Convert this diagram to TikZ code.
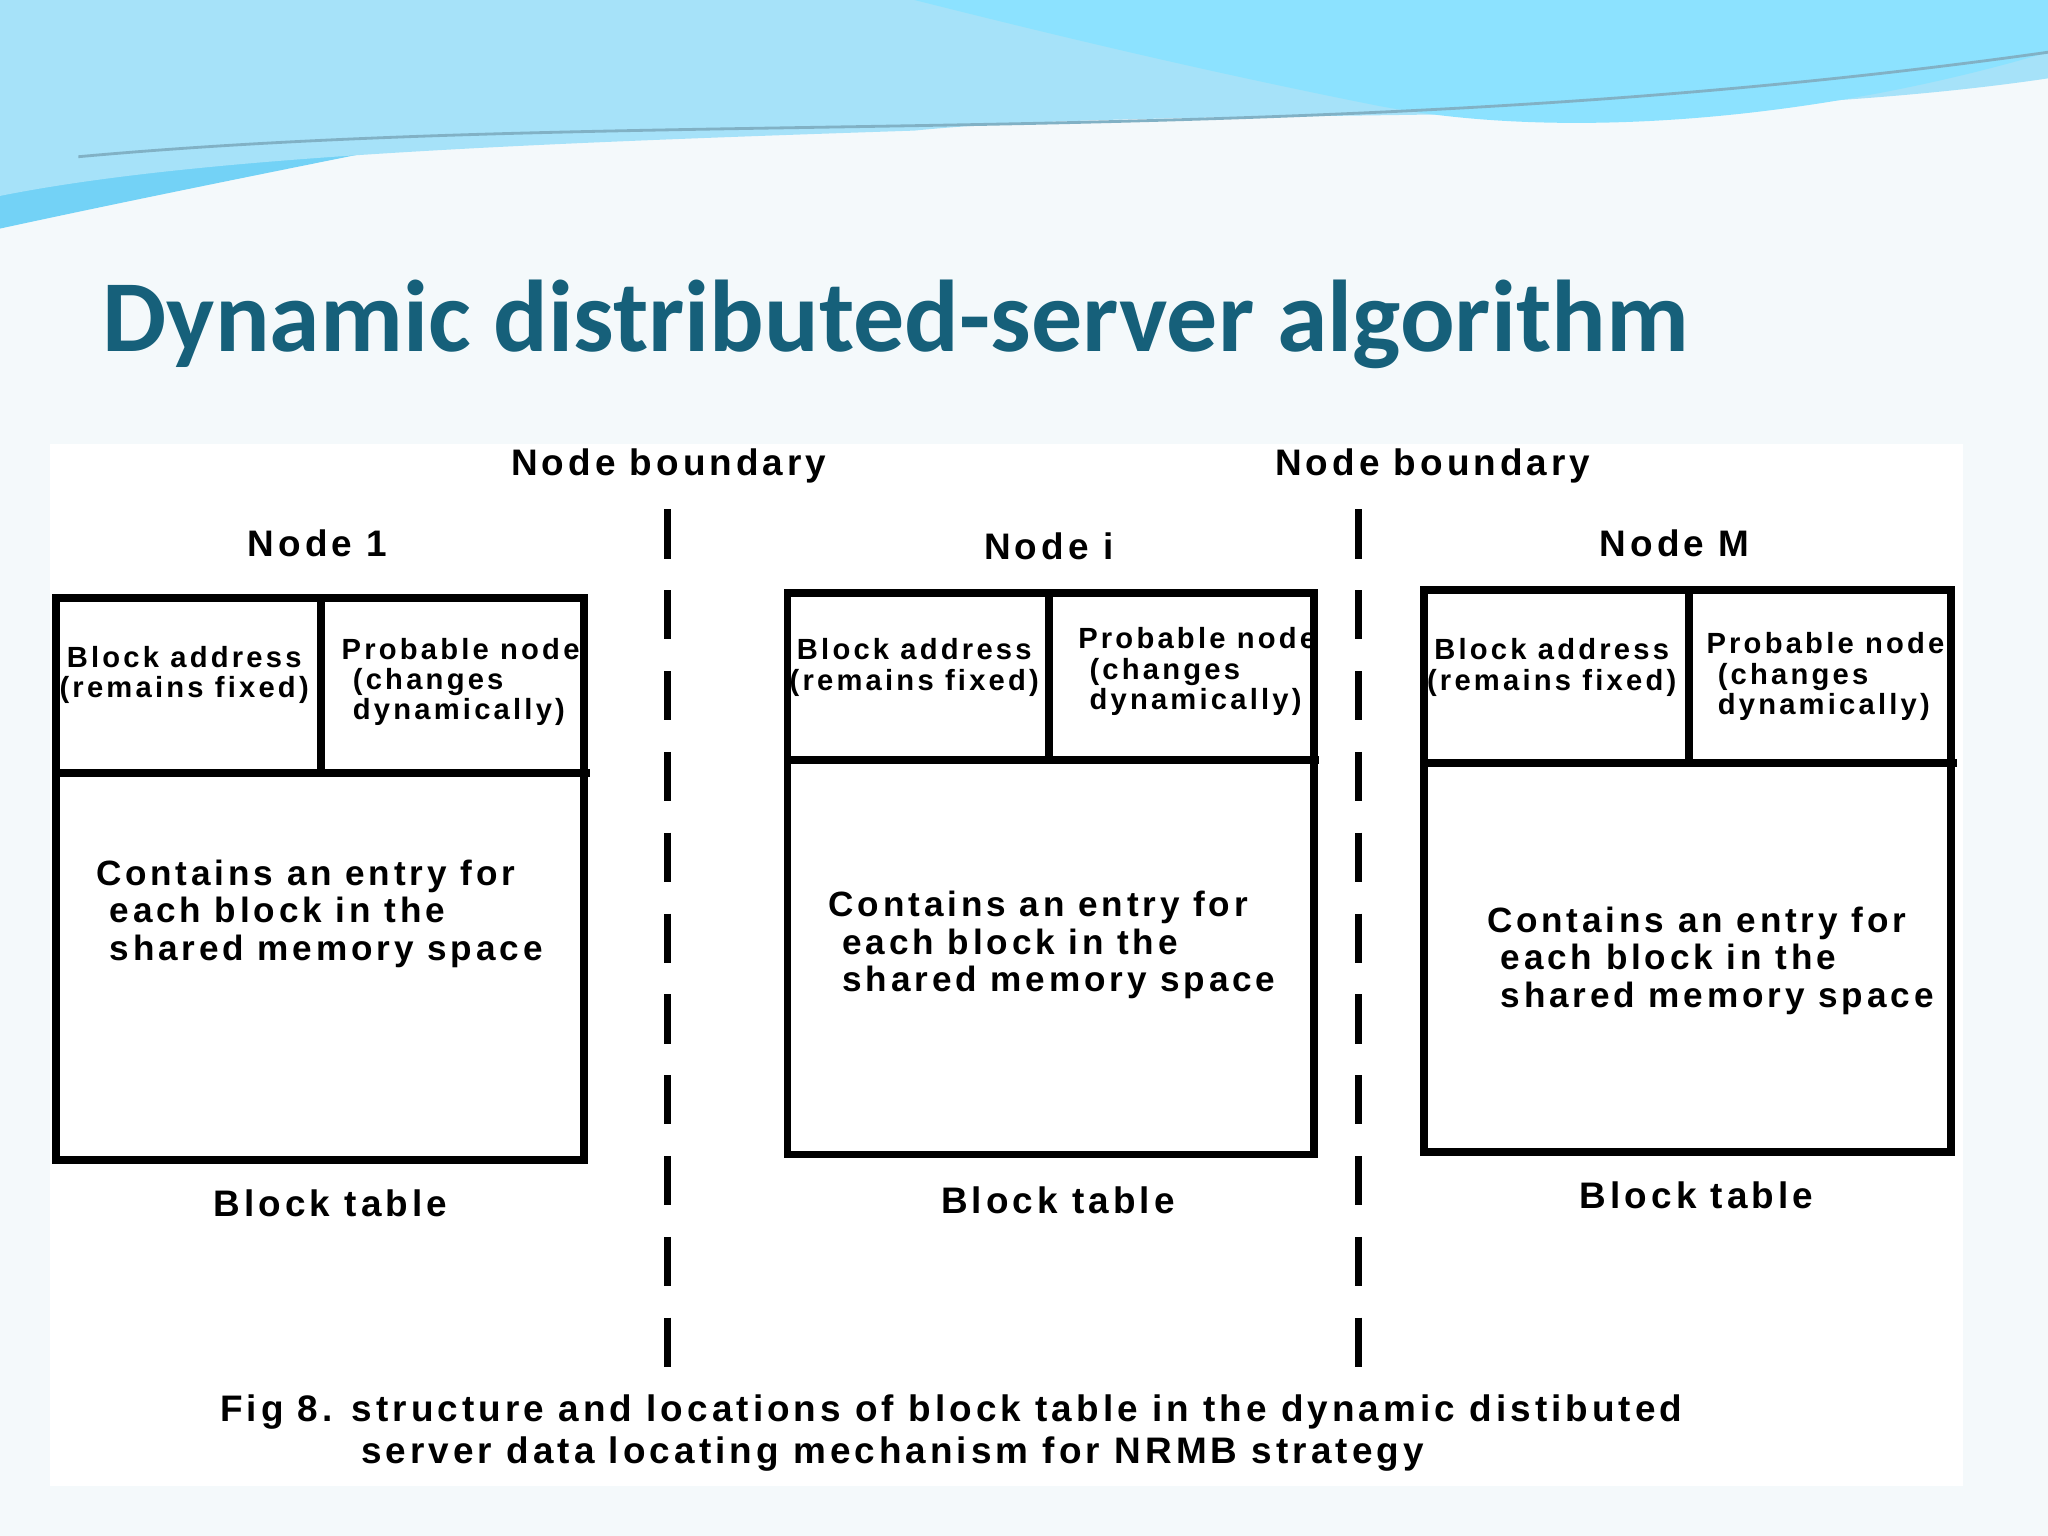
\documentclass[tikz,border=0pt]{standalone}
\usepackage{fontspec}
\setmainfont{Liberation Sans}[LetterSpace=11]
\newfontfamily\titlefont{Carlito}
\begin{document}
\begin{tikzpicture}[x=0.013061cm,y=-0.013061cm,
  box/.style={line width=2.2pt},
  lbl/.style={font=\bfseries\fontsize{10.5}{12}\selectfont},
  cell/.style={font=\bfseries\fontsize{8.3}{8.6}\selectfont,align=left,inner sep=0pt},
  body/.style={font=\bfseries\fontsize{10}{10.6}\selectfont,align=left,inner sep=0pt},
  bnd/.style={line width=2pt,dash pattern=on 14pt off 9pt}]
\useasboundingbox (0,0) rectangle (1568,1176);
\definecolor{bg}{HTML}{F4F9FB}
\definecolor{titlec}{HTML}{16607A}
\fill[bg] (0,0) rectangle (1568,1176);
% header waves
\fill[cyan!55!white] (0,0) -- (780,0) .. controls (600,60) and (300,110) .. (0,175) -- cycle;
\fill[cyan!35!white] (0,0) -- (1568,0) -- (1568,60) .. controls (1300,100) and (900,80) .. (700,100) .. controls (400,110) and (150,120) .. (0,150) -- cycle;
\fill[blue!25!cyan!45!white] (700,0) -- (1568,0) -- (1568,40) .. controls (1400,90) and (1200,110) .. (1050,80) .. controls (900,50) and (780,20) .. (700,0) -- cycle;
\draw[cyan!60!black!60,line width=0.8pt] (60,120) .. controls (500,80) and (1000,120) .. (1568,40);
\node[anchor=west,inner sep=0pt,text=titlec,font=\titlefont\bfseries\fontsize{29}{32}\selectfont] (title) at (78,248) {Dynamic distributed-server algorithm};
\fill[white] (38,340) rectangle (1503,1138);
% boundaries
\coordinate (b1t) at (511,390); \coordinate (b1b) at (511,1055);
\coordinate (b2t) at (1040,390); \coordinate (b2b) at (1040,1055);
\draw[bnd] (b1t) -- (b1b);
\draw[bnd] (b2t) -- (b2b);
\node[lbl] (nb1) at (512,357) {Node boundary};
\node[lbl] (nb2) at (1097,357) {Node boundary};
% box 1
\draw[box] (43,458) rectangle (447,888);
\draw[box] (43,592) -- (452,592);
\draw[box] (246,458) -- (246,592);
\node[lbl] (n1) at (243,416) {Node 1};
\node[cell,align=center] (a1) at (141,517) {Block address\\(remains fixed)};
\node[cell,anchor=north west] (p1) at (261,488) {Probable node\\ \ (changes\\ \ dynamically)};
\node[body,anchor=north west] (c1) at (73,658) {Contains an entry for\\ \ each block in the\\ \ shared memory space};
\node[lbl] (t1) at (253,921) {Block table};
% box 2
\draw[box] (603,454) rectangle (1006,884);
\draw[box] (603,582) -- (1010,582);
\draw[box] (803,454) -- (803,582);
\node[lbl] (n2) at (803,418) {Node i};
\node[cell,align=center] (a2) at (700,511) {Block address\\(remains fixed)};
\node[cell,anchor=north west] (p2) at (825,480) {Probable node\\ \ (changes\\ \ dynamically)};
\node[body,anchor=north west] (c2) at (634,682) {Contains an entry for\\ \ each block in the\\ \ shared memory space};
\node[lbl] (t2) at (810,919) {Block table};
% box 3
\draw[box] (1090,452) rectangle (1494,882);
\draw[box] (1090,584) -- (1498,584);
\draw[box] (1293,452) -- (1293,584);
\node[lbl] (n3) at (1282,416) {Node M};
\node[cell,align=center] (a3) at (1188,511) {Block address\\(remains fixed)};
\node[cell,anchor=north west] (p3) at (1306,484) {Probable node\\ \ (changes\\ \ dynamically)};
\node[body,anchor=north west] (c3) at (1138,694) {Contains an entry for\\ \ each block in the\\ \ shared memory space};
\node[lbl] (t3) at (1299,915) {Block table};
% caption
\node[lbl,anchor=west,inner sep=0pt] (cap1) at (168,1081) {Fig 8. structure and locations of block table in the dynamic distibuted};
\node[lbl,anchor=west,inner sep=0pt] (cap2) at (276,1113) {server data locating mechanism for NRMB strategy};
\end{tikzpicture}
\end{document}
